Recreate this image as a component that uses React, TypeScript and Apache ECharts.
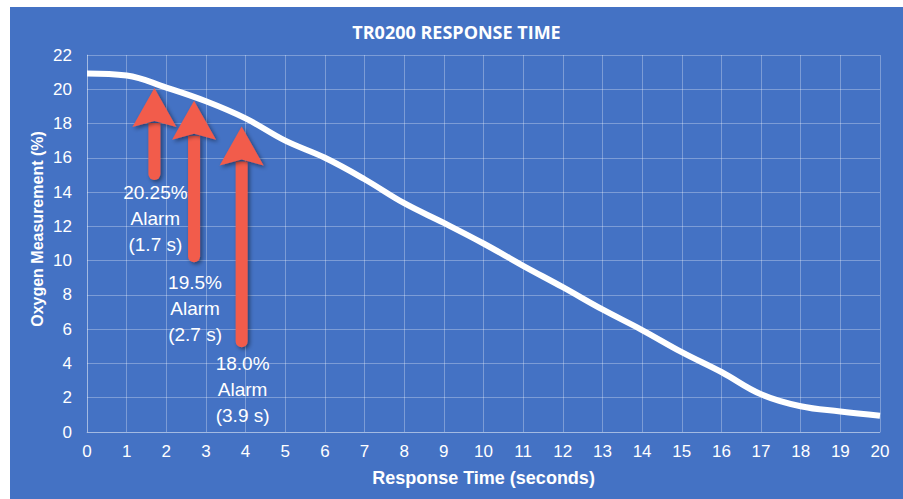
import React, { useEffect, useRef } from "react";
import * as echarts from "echarts";

const times = [0, 1, 2, 3, 4, 5, 6, 7, 8, 9, 10, 11, 12, 13, 14, 15, 16, 17, 18, 19, 20];
const oxygen = [20.92, 20.8, 20.1, 19.3, 18.3, 17.0, 16.0, 14.75, 13.35, 12.2, 11.0, 9.7, 8.45, 7.15, 5.95, 4.66, 3.5, 2.2, 1.5, 1.2, 0.95];

const xTicks = { min: 0, max: 20, interval: 1 };
const yTicks = { min: 0, max: 22, interval: 2 };

const alarmTimes = [1.7, 2.7, 3.9];
const alarmLevels = [20.25, 19.5, 18.0];
const arrowBaseLevels = [14.7, 9.9, 4.95];
const labelLevels = [14.0, 8.75, 4.0];
const alarmLabels = ["20.25%\nAlarm\n(1.7 s)", "19.5%\nAlarm\n(2.7 s)", "18.0%\nAlarm\n(3.9 s)"];

const titleText = "TR0200 RESPONSE TIME";
const xName = "Response Time (seconds)";
const yName = "Oxygen Measurement (%)";

export default function App() {
  const ref = useRef<HTMLDivElement>(null);
  useEffect(() => {
    if (!ref.current) return;
    const chart = echarts.init(ref.current, null, { renderer: "svg" });
    const gridColor = "rgba(255,255,255,0.3)";
    const arrowColor = "#F25B4B";
    const shadow = {
      shadowBlur: 4,
      shadowOffsetX: 2,
      shadowOffsetY: 2,
      shadowColor: "rgba(0,0,0,0.45)",
    };
    const alarmData = alarmTimes.map((t, i) => [t, alarmLevels[i], arrowBaseLevels[i], labelLevels[i], i]);
    chart.setOption({
      animation: false,
      backgroundColor: "#4472C4",
      title: {
        text: titleText,
        left: "center",
        top: 11,
        textStyle: { color: "#fff", fontFamily: "Open Sans", fontWeight: "bold", fontSize: 18 },
      },
      graphic: [
        {
          type: "text",
          x: 27,
          y: 222,
          rotation: Math.PI / 2,
          style: {
            text: yName,
            fill: "#fff",
            fontFamily: "Liberation Sans",
            fontWeight: "bold",
            fontSize: 16,
            align: "center",
            verticalAlign: "middle",
          },
        },
      ],
      grid: { left: 77, right: 23, top: 48, bottom: 67 },
      xAxis: {
        type: "value",
        min: xTicks.min,
        max: xTicks.max,
        interval: xTicks.interval,
        name: xName,
        nameLocation: "middle",
        nameGap: 37,
        nameTextStyle: { color: "#fff", fontFamily: "Liberation Sans", fontWeight: "bold", fontSize: 18 },
        axisLine: { show: true, lineStyle: { color: gridColor, width: 1 } },
        axisTick: { show: false },
        axisLabel: { color: "#fff", fontFamily: "Liberation Sans", fontSize: 17, margin: 11 },
        splitLine: { show: true, lineStyle: { color: gridColor, width: 1 } },
      },
      yAxis: {
        type: "value",
        min: yTicks.min,
        max: yTicks.max,
        interval: yTicks.interval,
        axisLine: { show: true, lineStyle: { color: gridColor, width: 1 } },
        axisTick: { show: false },
        axisLabel: { color: "#fff", fontFamily: "Liberation Sans", fontSize: 17, margin: 15 },
        splitLine: { show: true, lineStyle: { color: gridColor, width: 1 } },
      },
      series: [
        {
          type: "line",
          data: times.map((t, i) => [t, oxygen[i]]),
          smooth: 0.4,
          showSymbol: false,
          symbol: "none",
          lineStyle: { color: "#fff", width: 6 },
          z: 2,
        },
        {
          type: "custom",
          data: alarmData,
          z: 5,
          renderItem: (params: any, api: any) => {
            const tip = api.coord([api.value(0), api.value(1)]);
            const base = api.coord([api.value(0), api.value(2)]);
            const lab = api.coord([api.value(0), api.value(3)]);
            const idx = api.value(4);
            const x = tip[0];
            const ty = tip[1] + 3;
            const headH = 39;
            const headW = 22;
            const shaftW = 12;
            return {
              type: "group",
              children: [
                {
                  type: "rect",
                  shape: { x: x - shaftW / 2, y: ty + headH - 4, width: shaftW, height: base[1] - ty - headH + 4, r: [0, 0, 6, 6] },
                  style: { fill: arrowColor, ...shadow },
                },
                {
                  type: "polygon",
                  shape: {
                    points: [
                      [x, ty],
                      [x + headW, ty + headH],
                      [x, ty + headH - 6],
                      [x - headW, ty + headH],
                    ],
                  },
                  style: { fill: arrowColor, ...shadow },
                },
                {
                  type: "text",
                  style: {
                    text: alarmLabels[idx],
                    x: x + 1,
                    y: lab[1] - 13,
                    fill: "#fff",
                    fontFamily: "Liberation Sans",
                    fontSize: 19,
                    lineHeight: 26,
                    align: "center",
                    verticalAlign: "top",
                  },
                },
              ],
            };
          },
        },
      ],
    });
    return () => chart.dispose();
  }, []);
  return (
    <div style={{ position: "absolute", left: 0, top: 0, width: 903, height: 499, background: "#fff" }}>
      <div ref={ref} style={{ position: "absolute", left: 10, top: 7, width: 893, height: 492 }} />
    </div>
  );
}
